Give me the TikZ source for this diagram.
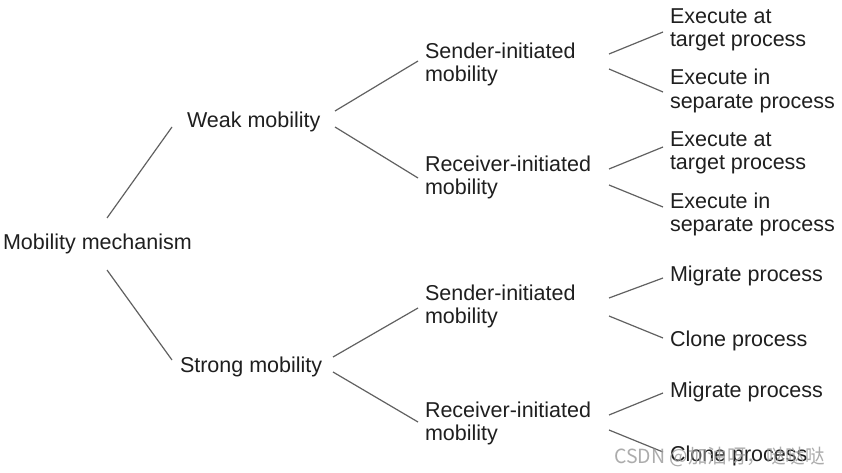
\documentclass[tikz,border=0pt]{standalone}
\usepackage{fontspec}
\setmainfont{Liberation Sans}
\newfontfamily\cjkwm{Noto Sans CJK SC}
\begin{document}
\begin{tikzpicture}[x=1pt,y=-1pt,
  txt/.style={anchor=west, inner sep=0pt, outer sep=0pt, align=left,
    font=\fontsize{21.5}{23.5}\selectfont, text=black!88},
  conn/.style={draw=black!62, line width=1.2pt},
  wmark/.style={anchor=base west, inner sep=0pt, text=black!38, opacity=0.85,
    font=\cjkwm\fontsize{19.5}{22}\selectfont}]
\useasboundingbox[fill=white] (0,0) rectangle (842,473);

% nodes
\node[txt] (mob) at (3,244.4) {Mobility mechanism};
\node[txt] (weak) at (187,122.4) {Weak mobility};
\node[txt] (strong) at (180,367.4) {Strong mobility};
\node[txt] (s1) at (425,64.4) {Sender-initiated\\mobility};
\node[txt] (r1) at (425,177.4) {Receiver-initiated\\mobility};
\node[txt] (s2) at (425,306.4) {Sender-initiated\\mobility};
\node[txt] (r2) at (425,423.4) {Receiver-initiated\\mobility};
\node[txt] (a1) at (670,29.9) {Execute at\\target process};
\node[txt] (i1) at (670,90.9) {Execute in\\separate process};
\node[txt] (a2) at (670,152.9) {Execute at\\target process};
\node[txt] (i2) at (670,214.4) {Execute in\\separate process};
\node[txt] (m1) at (670,276.4) {Migrate process};
\node[txt] (c1) at (670,341.4) {Clone process};
\node[txt] (m2) at (670,392.4) {Migrate process};
\node[txt] (c2) at (670,456.4) {Clone process};

% connectors
\draw[conn] ([shift={(104,-26.4)}]mob.west) -- ([shift={(-15,4.6)}]weak.west);
\draw[conn] ([shift={(104,25.6)}]mob.west) -- ([shift={(-8,-7.4)}]strong.west);
\draw[conn] ([shift={(148,-11.4)}]weak.west) -- ([shift={(-7,-3.4)}]s1.west);
\draw[conn] ([shift={(148,4.6)}]weak.west) -- ([shift={(-7,0.6)}]r1.west);
\draw[conn] ([shift={(153,-10.4)}]strong.west) -- ([shift={(-7,1.6)}]s2.west);
\draw[conn] ([shift={(153,4.6)}]strong.west) -- ([shift={(-7,-1.4)}]r2.west);
\draw[conn] ([shift={(184,-10.4)}]s1.west) -- ([shift={(-7,2.1)}]a1.west);
\draw[conn] ([shift={(184,4.6)}]s1.west) -- ([shift={(-7,1.1)}]i1.west);
\draw[conn] ([shift={(184,-8.4)}]r1.west) -- ([shift={(-7,-5.9)}]a2.west);
\draw[conn] ([shift={(184,7.6)}]r1.west) -- ([shift={(-7,-7.4)}]i2.west);
\draw[conn] ([shift={(184,-8.4)}]s2.west) -- ([shift={(-7,1.6)}]m1.west);
\draw[conn] ([shift={(184,9.6)}]s2.west) -- ([shift={(-7,-3.4)}]c1.west);
\draw[conn] ([shift={(184,-8.4)}]r2.west) -- ([shift={(-7,0.6)}]m2.west);
\draw[conn] ([shift={(184,6.6)}]r2.west) -- ([shift={(-7,-4.4)}]c2.west);

% watermark
\node[wmark] (wm) at (614,463) {CSDN @加油呀，哒哒哒};
\end{tikzpicture}
\end{document}
